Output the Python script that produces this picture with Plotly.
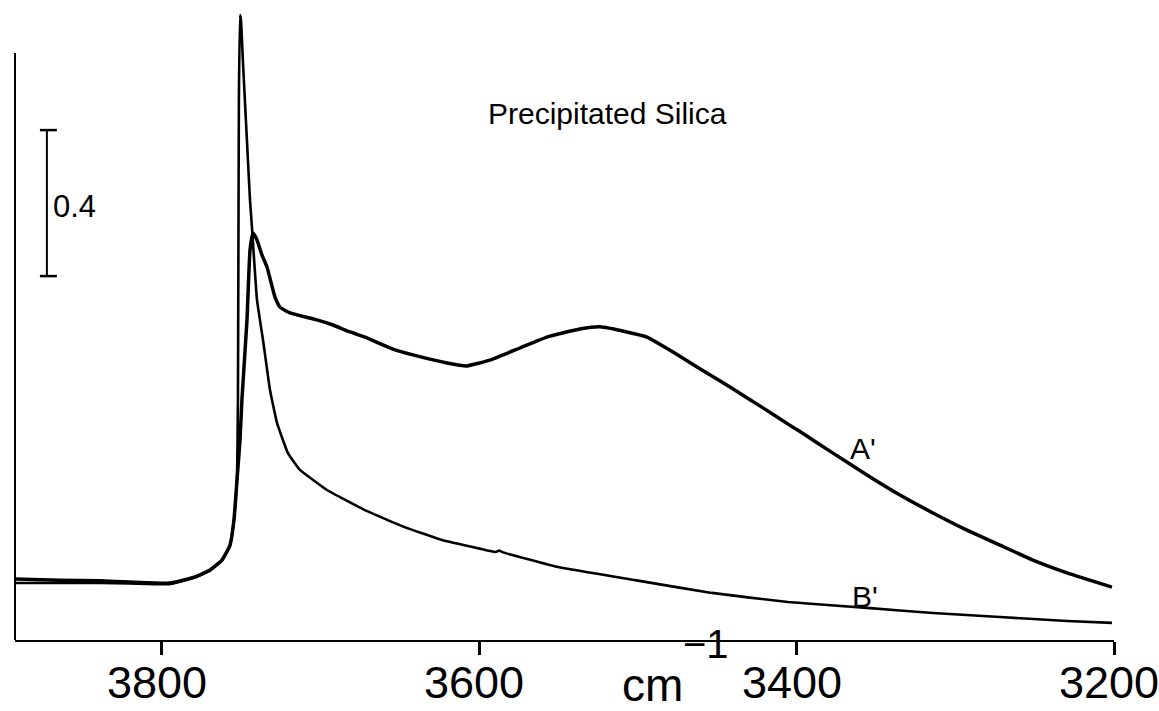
import plotly.graph_objects as go

# Wavenumbers (cm^-1) and absorbance
a_wn = [3892.6, 3864.3, 3839.1, 3820.2, 3795.0, 3779.2, 3769.7, 3762.2, 3757.1, 3754.6,
        3752.7, 3750.8, 3749.6, 3746.4, 3744.5, 3742.6, 3740.1, 3737.0, 3733.8, 3728.8,
        3725.6, 3719.3, 3702.3, 3692.2, 3681.5, 3670.8, 3662.6, 3654.4, 3641.8, 3620.4,
        3607.8, 3593.3, 3574.4, 3557.4, 3536.6, 3524.0, 3507.0, 3494.3, 3477.9, 3462.8,
        3442.0, 3421.2, 3404.2, 3397.9, 3377.1, 3355.7, 3334.9, 3314.1, 3292.7, 3271.9,
        3251.1, 3229.6, 3201.3]
a_abs = [0.167, 0.164, 0.162, 0.159, 0.156, 0.173, 0.192, 0.219, 0.260, 0.329,
         0.438, 0.548, 0.658, 0.877, 1.068, 1.115, 1.096, 1.055, 1.022, 0.940,
         0.912, 0.896, 0.877, 0.863, 0.844, 0.828, 0.812, 0.797, 0.781, 0.759,
         0.751, 0.767, 0.800, 0.830, 0.852, 0.858, 0.844, 0.830, 0.789, 0.748,
         0.693, 0.636, 0.588, 0.571, 0.512, 0.452, 0.397, 0.348, 0.301, 0.260,
         0.219, 0.184, 0.145]

b_wn = [3892.6, 3864.3, 3839.1, 3820.2, 3795.0, 3779.2, 3769.7, 3762.2, 3757.1, 3754.6,
        3752.7, 3752.1, 3751.8, 3751.5, 3750.8, 3750.2, 3749.0, 3747.1, 3744.5, 3743.3,
        3740.1, 3736.3, 3731.9, 3727.5, 3720.6, 3713.0, 3696.0, 3672.1, 3647.5, 3623.5,
        3593.3, 3589.5, 3587.5, 3585.0, 3550.4, 3501.9, 3453.4, 3405.5, 3355.7, 3314.1,
        3271.9, 3229.6, 3201.3]
b_abs = [0.156, 0.156, 0.156, 0.155, 0.153, 0.171, 0.190, 0.217, 0.258, 0.327,
         0.436, 0.658, 1.068, 1.479, 1.712, 1.699, 1.589, 1.425, 1.205, 1.132,
         0.932, 0.822, 0.685, 0.595, 0.512, 0.466, 0.411, 0.356, 0.310, 0.274,
         0.244, 0.241, 0.245, 0.240, 0.200, 0.164, 0.129, 0.104, 0.088, 0.074,
         0.063, 0.052, 0.047]

x_ticks = [3800, 3600, 3400, 3200]
x_tick_labels = ["3800", "3600", "3400", "3200"]

scale_bar_wn = 3872.5
scale_bar_low = 0.997
scale_bar_high = 1.397
scale_bar_label = "0.4"

FONT = "Liberation Sans, Arial, sans-serif"

fig = go.Figure()
fig.add_trace(go.Scatter(x=a_wn, y=a_abs, mode="lines", name="A'",
                         line=dict(color="black", width=3.5, shape="spline", smoothing=0.4)))
fig.add_trace(go.Scatter(x=b_wn, y=b_abs, mode="lines", name="B'",
                         line=dict(color="black", width=2.6, shape="spline", smoothing=0.3)))

# tick marks below the axis line (markers allowed outside the plot area)
fig.add_trace(go.Scatter(x=x_ticks, y=[-0.0178] * len(x_ticks), mode="markers",
                         cliponaxis=False, hoverinfo="skip",
                         marker=dict(symbol="line-ns-open", size=13,
                                     line=dict(color="black", width=2.5))))

# left vertical frame line
fig.add_shape(type="line", xref="paper", yref="y", x0=0, x1=0, y0=0, y1=1.608,
              line=dict(color="black", width=2))

# scale bar
fig.add_shape(type="line", x0=scale_bar_wn, x1=scale_bar_wn, y0=scale_bar_low, y1=scale_bar_high,
              line=dict(color="black", width=2))
for yy in (scale_bar_low, scale_bar_high):
    fig.add_shape(type="line", x0=scale_bar_wn + 4.4, x1=scale_bar_wn - 6.3, y0=yy, y1=yy,
                  line=dict(color="black", width=2.5))
fig.add_annotation(x=scale_bar_wn - 2.5, y=(scale_bar_low + scale_bar_high) / 2 - 0.01,
                   text=scale_bar_label, showarrow=False, xanchor="left", yanchor="middle",
                   font=dict(family=FONT, size=31, color="black"))

fig.add_annotation(xref="paper", yref="paper", x=0.5387, y=0.836, yanchor="middle",
                   text="Precipitated Silica",
                   showarrow=False, font=dict(family=FONT, size=30, color="black"))
fig.add_annotation(x=3358, y=0.525, text="A'", showarrow=False,
                   font=dict(family=FONT, size=30, color="black"))
fig.add_annotation(x=3357, y=0.12, text="B'", showarrow=False,
                   font=dict(family=FONT, size=30, color="black"))

# tick labels placed at the axis tick values
for tv, tl in zip(x_ticks, x_tick_labels):
    fig.add_annotation(xref="x", yref="paper", x=tv, y=-0.0667, yanchor="middle",
                       xshift=-5, text=tl, showarrow=False,
                       font=dict(family=FONT, size=45, color="black"))

# axis unit label cm^-1
fig.add_annotation(xref="x", yref="paper", x=3491, y=-0.071, yanchor="middle", text="cm",
                   showarrow=False, font=dict(family=FONT, size=46, color="black"))
fig.add_annotation(xref="x", yref="paper", x=3457, y=-0.006, yanchor="middle", text="\u22121",
                   showarrow=False, font=dict(family=FONT, size=40, color="black"))

fig.update_layout(
    width=1159, height=711,
    margin=dict(l=15, r=45, t=10, b=71),
    paper_bgcolor="white", plot_bgcolor="white",
    showlegend=False,
    xaxis=dict(range=[3892.6, 3200], tickmode="array", tickvals=x_ticks,
               ticktext=x_tick_labels, showticklabels=True,
               tickfont=dict(family=FONT, size=10, color="rgba(0,0,0,0)"),
               ticks="outside", ticklen=13, tickwidth=2.5, tickcolor="black",
               showline=True, linecolor="black", linewidth=2, showgrid=False,
               zeroline=False, automargin=False),
    yaxis=dict(range=[0, 1.726], visible=False, showgrid=False, zeroline=False,
               automargin=False),
)

fig.write_html("out.html", config={"displayModeBar": False},
               post_script="document.body.style.margin='0px';")
